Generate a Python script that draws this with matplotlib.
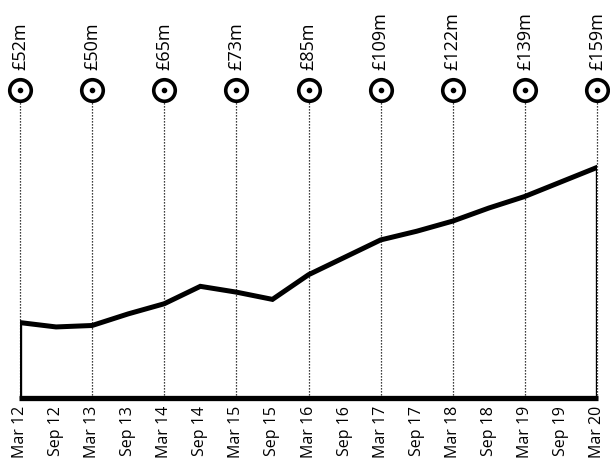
import matplotlib.pyplot as plt

plt.rcParams['font.family'] = ['Open Sans', 'DejaVu Sans']

periods = ["Mar 12", "Sep 12", "Mar 13", "Sep 13", "Mar 14", "Sep 14", "Mar 15", "Sep 15",
           "Mar 16", "Sep 16", "Mar 17", "Sep 17", "Mar 18", "Sep 18", "Mar 19", "Sep 19", "Mar 20"]
value_m = [52, 49, 50, 58, 65, 77, 73, 68, 85, 97, 109, 115, 122, 131, 139, 149, 159]

# annual (March) points that get a marker and a label
marked_idx = [0, 2, 4, 6, 8, 10, 12, 14, 16]
marked_labels = ["£52m", "£50m", "£65m", "£73m", "£85m", "£109m", "£122m", "£139m", "£159m"]

x = list(range(len(periods)))
ytop = 212.6

fig = plt.figure(figsize=(6.1, 4.64), dpi=100)
ax = fig.add_axes([0.0328, 0.1401, 0.9459, 0.6644])

# dotted drop lines from the markers
for i in marked_idx:
    ax.plot([x[i], x[i]], [0, ytop], color='black', lw=0.9,
            linestyle=(0, (1, 1.4)), zorder=1, clip_on=False)

# outline of the area under the series
ax.plot(x, value_m, color='black', lw=3.6, solid_joinstyle='miter', zorder=3)
ax.plot([x[0], x[0]], [0, value_m[0]], color='black', lw=2.4, zorder=3)
ax.plot([x[-1], x[-1]], [0, value_m[-1]], color='black', lw=2.4, zorder=3)
ax.plot([x[0] - 0.03, x[-1] + 0.03], [0, 0], color='black', lw=3.8,
        solid_capstyle='butt', zorder=3, clip_on=False)

# ring markers with a dot in the middle
mx = [x[i] for i in marked_idx]
ax.plot(mx, [ytop] * len(mx), linestyle='none', marker='o', ms=15.5,
        mfc='white', mec='black', mew=2.6, zorder=4, clip_on=False)
ax.plot(mx, [ytop] * len(mx), linestyle='none', marker='o', ms=3,
        color='black', zorder=5, clip_on=False)

for i, lab in zip(marked_idx, marked_labels):
    ax.annotate(lab, (x[i], ytop), xytext=(0, 15), textcoords='offset points',
                rotation=90, ha='center', va='bottom', fontsize=13,
                fontweight='medium')

ax.set_xlim(0, 16)
ax.set_ylim(0, ytop)
ax.set_xticks(x)
ax.set_xticklabels(periods, rotation=90, fontsize=11.5)
ax.tick_params(axis='x', length=0, pad=5)
ax.set_yticks([])
for side in ax.spines.values():
    side.set_visible(False)

plt.savefig("out.png", dpi=100)
